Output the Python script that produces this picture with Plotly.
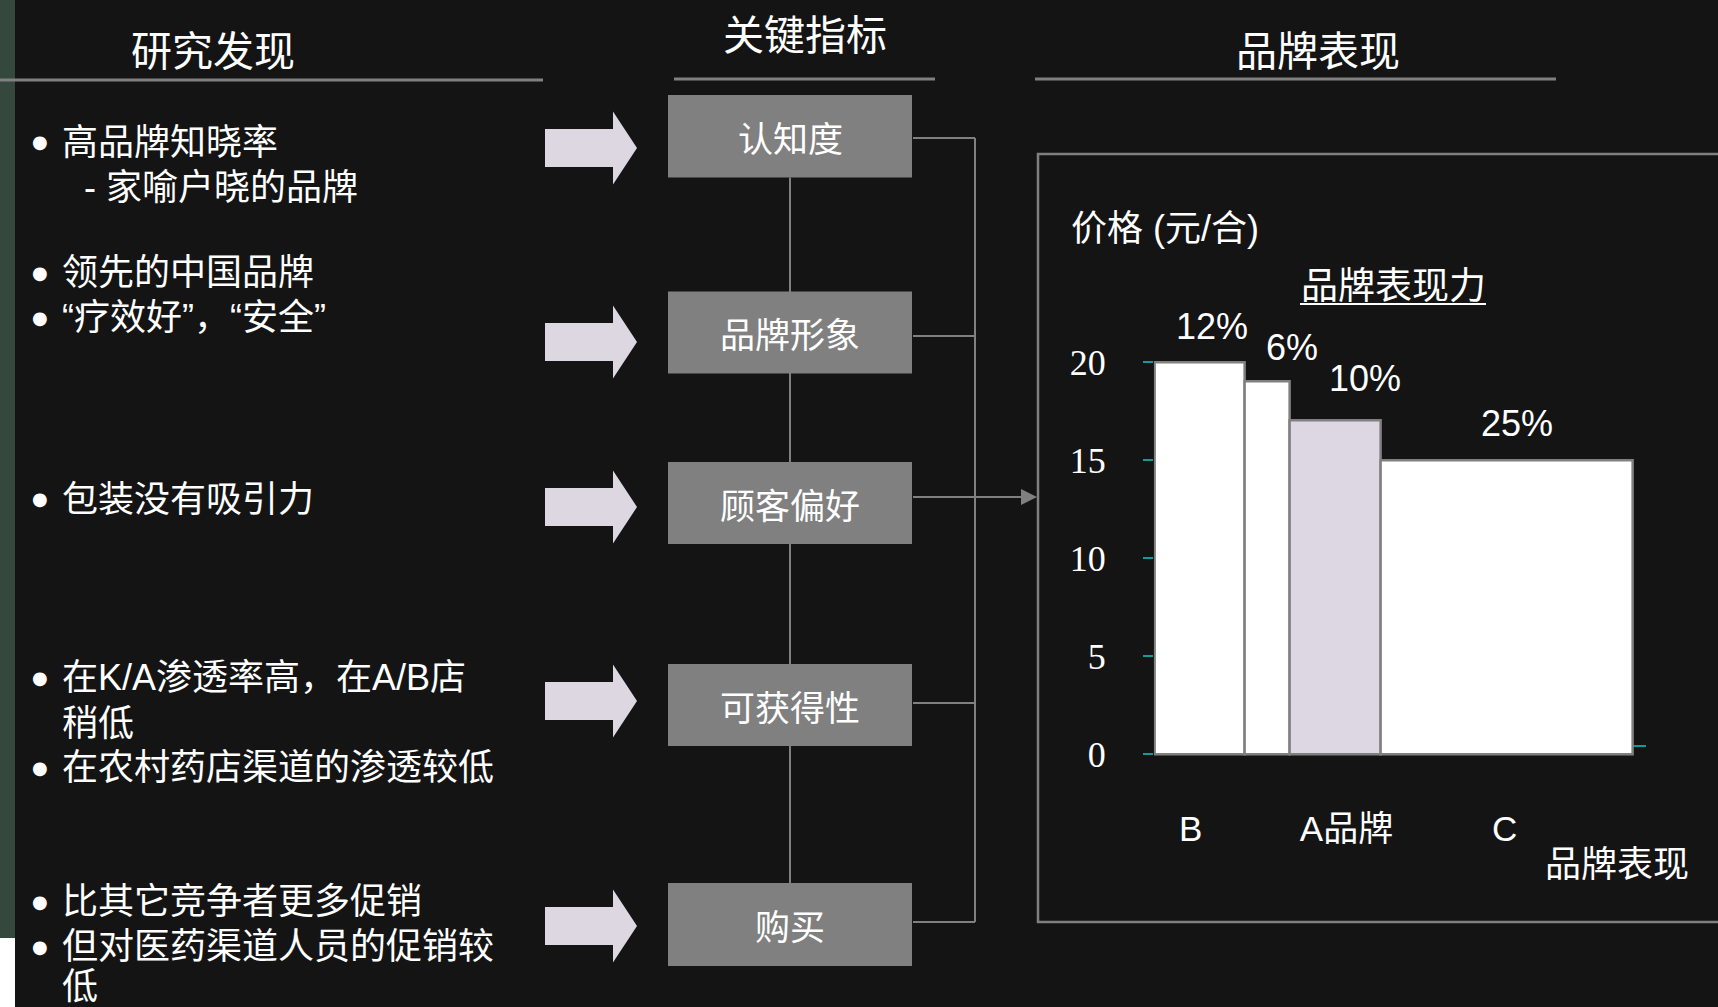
import plotly.graph_objects as go

W, H = 1718, 1007

# ---------------- data ----------------
brands = ["B", "", "A品牌", "C"]
brand_widths = [12, 6, 12, 33.5]          # 市场份额宽度（Marimekko 宽度）
prices = [20, 19, 17, 15]                 # 价格 (元/合)
share_labels = ["12%", "6%", "10%", "25%"]
bar_colors = ["#ffffff", "#ffffff", "#dcd7e2", "#ffffff"]
y_ticks = [0, 5, 10, 15, 20]

section_titles = ["研究发现", "关键指标", "品牌表现"]
kpis = ["认知度", "品牌形象", "顾客偏好", "可获得性", "购买"]
finding_lines = [
    "高品牌知晓率",
    "- 家喻户晓的品牌",
    "领先的中国品牌",
    "“疗效好”，“安全”",
    "包装没有吸引力",
    "在K/A渗透率高，在A/B店",
    "稍低",
    "在农村药店渠道的渗透较低",
    "比其它竞争者更多促销",
    "但对医药渠道人员的促销较",
    "低",
]
finding_bullet = [True, False, True, True, True, True, False, True, True, True, False]
chart_y_title = "价格 (元/合)"
chart_title = "品牌表现力"
chart_x_title = "品牌表现"

# ---------------- layout constants (pixels) ----------------
BG = "#141414"
GRAY = "#808080"
TEAL = "#139a9a"
ARROW = "#dcd7e1"
CJK = "Noto Sans CJK SC"
LAT = "Liberation Sans, Noto Sans CJK SC"

def px(x):
    return x / W

def py(y):
    return 1 - y / H

finding_y = [142, 187, 272, 317, 499, 677, 723, 767, 901, 946, 986]
finding_x = [60, 82, 60, 60, 60, 60, 60, 60, 60, 60, 60]
box_y = [(95, 177.5), (291.5, 373.5), (462, 544), (664, 746), (883, 966)]
box_x = (668, 912)
conn_y = [138, 336, 497, 703, 922]
arrow_y = [148, 342, 507, 701, 926]
label_xshift = [12, 24, 30, 10]
label_yshift = [36, 34, 42, 37]
xtick_shift = [-1.26, 0, 1.46, -0.27]     # label nudges in axis units

shapes = []
annots = []

def line(x0, y0, x1, y1, color=GRAY, width=2):
    shapes.append(dict(type="line", xref="paper", yref="paper",
                       x0=px(x0), y0=py(y0), x1=px(x1), y1=py(y1),
                       line=dict(color=color, width=width), layer="below"))

def rect(x0, y0, x1, y1, fill, lc=None, lw=0, layer="below"):
    shapes.append(dict(type="rect", xref="paper", yref="paper",
                       x0=px(x0), y0=py(y0), x1=px(x1), y1=py(y1),
                       fillcolor=fill, line=dict(color=lc or fill, width=lw), layer=layer))

def poly(points, fill):
    d = "M " + " L ".join(f"{px(a):.5f},{py(b):.5f}" for a, b in points) + " Z"
    shapes.append(dict(type="path", xref="paper", yref="paper", path=d,
                       fillcolor=fill, line=dict(color=fill, width=0), layer="below"))

def text(x, y, s, size, family=CJK, xanchor="center", color="white", height=None):
    a = dict(xref="paper", yref="paper", x=px(x), y=py(y), text=s,
             showarrow=False, xanchor=xanchor, yanchor="middle",
             font=dict(family=family, size=size, color=color))
    if height is not None:
        a["height"] = height
    annots.append(a)

# left strip
rect(0, 0, 15, 938, "#34483e")
rect(0, 938, 15, H, "#ffffff")

# section titles + underlines
text(213, 48, section_titles[0], 41)
text(805, 32, section_titles[1], 41)
text(1318, 48, section_titles[2], 41)
line(0, 80, 543, 80, width=3)
line(674, 79, 935, 79, width=3)
line(1035, 79, 1556, 79, width=3)

# findings
for s, b, x, y in zip(finding_lines, finding_bullet, finding_x, finding_y):
    if b:
        text(40, y, "●", 18, family="DejaVu Sans")
    text(x, y, s, 36, family=LAT, xanchor="left", height=40)

# arrows
for cy in arrow_y:
    poly([(545, cy - 19), (613, cy - 19), (613, cy - 36.5), (637, cy),
          (613, cy + 36.5), (613, cy + 19), (545, cy + 19)], ARROW)

# vertical spine between boxes
line(790, box_y[0][1], 790, box_y[-1][0])
# connectors to the right
for cy in conn_y:
    line(913, cy, 975, cy)
line(975, conn_y[0], 975, conn_y[-1])
line(975, conn_y[2], 1022, conn_y[2])
poly([(1021, conn_y[2] - 8), (1037, conn_y[2]), (1021, conn_y[2] + 8)], GRAY)

# KPI boxes
for k, (y0, y1) in zip(kpis, box_y):
    rect(box_x[0], y0, box_x[1], y1, GRAY)
    text((box_x[0] + box_x[1]) / 2, (y0 + y1) / 2, k, 35)

# chart panel
rect(1038, 154, 1725, 922, "rgba(0,0,0,0)", lc=GRAY, lw=2.5)

text(1069, 229, chart_y_title, 36, family=LAT, xanchor="left")
text(1393, 283, chart_title, 37)
line(1300, 304, 1486, 304, color="white", width=2)
text(1617, 861, chart_x_title, 36)
line(1632, 746, 1646, 746, color=TEAL, width=2)

# ---------------- bars ----------------
centers = []
acc = 0
for w in brand_widths:
    centers.append(acc + w / 2)
    acc += w

fig = go.Figure()
fig.add_trace(go.Bar(
    x=centers, y=prices, width=brand_widths, base=0,
    marker=dict(color=bar_colors, line=dict(color=GRAY, width=2.5)),
    hoverinfo="skip", showlegend=False,
))

for c, p, lab, xs, ys in zip(centers, prices, share_labels, label_xshift, label_yshift):
    annots.append(dict(xref="x", yref="y", x=c, y=p, text=lab, showarrow=False,
                       xanchor="center", yanchor="middle", xshift=xs, yshift=ys,
                       font=dict(family="Liberation Sans", size=36, color="white")))

tick_idx = [i for i, b in enumerate(brands) if b]

x_unit = 7.52
y_zero_px, unit = 754, 19.6
x0_px = 1155
fig.update_layout(
    width=W, height=H, autosize=False,
    margin=dict(l=0, r=0, t=0, b=0, pad=0, autoexpand=False),
    paper_bgcolor=BG, plot_bgcolor="rgba(0,0,0,0)",
    shapes=shapes, annotations=annots,
    bargap=0, showlegend=False,
    xaxis=dict(domain=[px(x0_px - 0.15 * x_unit), px(x0_px + 64.2 * x_unit)],
               range=[-0.15, 64.2], automargin=False,
               showgrid=False, zeroline=False, showline=False,
               tickvals=[centers[i] + xtick_shift[i] for i in tick_idx],
               ticktext=[brands[i] for i in tick_idx],
               ticks="", ticklabelstandoff=45,
               tickfont=dict(family=LAT, size=35, color="white")),
    yaxis=dict(domain=[py(y_zero_px + 0.3 * unit), py(y_zero_px - 21 * unit)],
               range=[-0.3, 21], automargin=False,
               showgrid=False, zeroline=False, showline=False,
               tickvals=y_ticks, ticks="outside", ticklen=10, tickwidth=2,
               tickcolor=TEAL, ticklabelstandoff=30,
               tickfont=dict(family="Liberation Serif", size=36, color="white")),
)

fig.write_html("out.html")
